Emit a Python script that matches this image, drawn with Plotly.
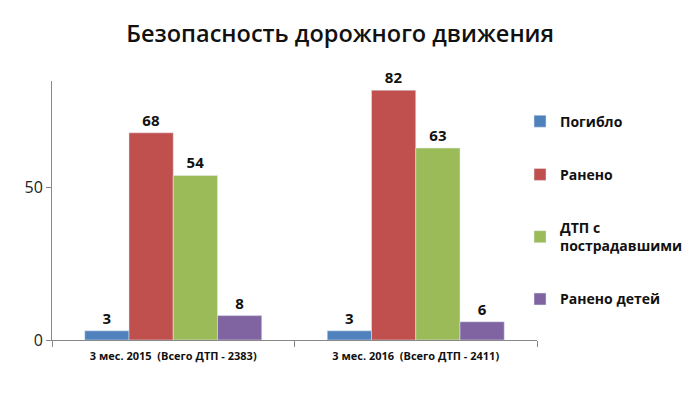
import plotly.graph_objects as go

categories = ["3 мес. 2015  (Всего ДТП - 2383)", "3 мес. 2016  (Всего ДТП - 2411)"]
series_names = ["Погибло", "Ранено", "ДТП с<br>пострадавшими", "Ранено детей"]
pogiblo = [3, 3]
raneno = [68, 82]
dtp = [54, 63]
deti = [8, 6]
colors = ["#4F81BD", "#C0504D", "#9BBB59", "#8064A2"]

fig = go.Figure()
for i, (name, vals) in enumerate(zip(series_names, [pogiblo, raneno, dtp, deti])):
    fig.add_trace(go.Bar(
        x=categories, y=vals, name=name, marker_color=colors[i],
        text=[str(v) for v in vals], textposition="outside",
        textfont=dict(family="Open Sans", size=15, color="#111111", weight=700),
        cliponaxis=False, legendgroup=str(i),
    ))

# page has an 8px body margin, so the figure is sized/offset to compensate
fig.update_layout(
    width=692, height=391,
    margin=dict(l=44, r=154, t=73, b=59),
    paper_bgcolor="white", plot_bgcolor="white",
    barmode="group", bargap=0.27, bargroupgap=0,
    title=dict(text="Безопасность дорожного движения", x=0.48, xanchor="center",
               y=0.935, yanchor="middle",
               font=dict(family="Open Sans", size=23.5, color="#111111", weight=600)),
    font=dict(family="Open Sans"),
    showlegend=True,
    legend=dict(x=0.965, xanchor="left", y=0.905, yanchor="top", tracegroupgap=32,
                font=dict(family="Open Sans", size=14, color="#111111", weight=700),
                itemwidth=30),
    xaxis=dict(showline=True, linecolor="#888888", ticks="outside", tickcolor="#888888",
               ticklen=6, tickson="boundaries", ticklabelstandoff=6,
               tickfont=dict(family="Open Sans", size=11, color="#111111", weight=700)),
    yaxis=dict(range=[0, 85], tickvals=[0, 50], showgrid=False, zeroline=False,
               showline=True, linecolor="#888888", ticks="outside", tickcolor="#888888",
               ticklen=5, tickfont=dict(family="Open Sans", size=16, color="#222222")),
)

fig.write_html("out.html")
